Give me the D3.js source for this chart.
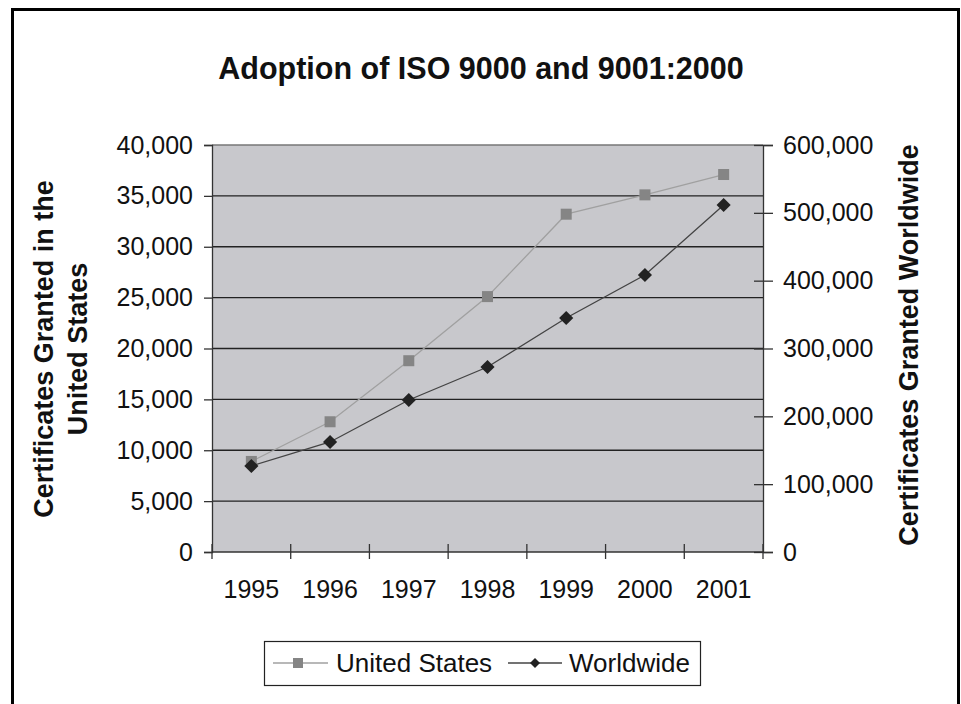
<!DOCTYPE html>
<html>
<head>
<meta charset="utf-8">
<script src="https://cdn.jsdelivr.net/npm/d3@7"></script>
<style>
  body { margin: 0; background: #fff; }
  text { font-family: "Liberation Sans", Arial, sans-serif; fill: #111; }
</style>
</head>
<body>
<div id="chart"></div>
<script>
// data
var years = ["1995", "1996", "1997", "1998", "1999", "2000", "2001"];
var usValues = [8900, 12800, 18800, 25100, 33200, 35100, 37100];
var worldValues = [126800, 162200, 224100, 272700, 345000, 408400, 511600];
var leftTicks = [0, 5000, 10000, 15000, 20000, 25000, 30000, 35000, 40000];
var rightTicks = [0, 100000, 200000, 300000, 400000, 500000, 600000];

var W = 961, H = 704;
var plot = { left: 212, right: 763, top: 145, bottom: 552 };
var tickFont = 25;

var svg = d3.select("#chart").append("svg").attr("width", W).attr("height", H);

// outer frame (runs off the bottom)
svg.append("rect")
  .attr("x", 12.5).attr("y", 9.5)
  .attr("width", 946).attr("height", 720)
  .attr("fill", "#fff").attr("stroke", "#000").attr("stroke-width", 3);

svg.append("text")
  .attr("x", 481).attr("y", 79)
  .attr("text-anchor", "middle")
  .attr("font-size", 30.5).attr("font-weight", "bold")
  .text("Adoption of ISO 9000 and 9001:2000");

var x = d3.scaleBand().domain(years).range([plot.left, plot.right]);
var yLeft = d3.scaleLinear().domain([0, 40000]).range([plot.bottom, plot.top]);
var yRight = d3.scaleLinear().domain([0, 600000]).range([plot.bottom, plot.top]);

svg.append("rect")
  .attr("x", plot.left).attr("y", plot.top)
  .attr("width", plot.right - plot.left).attr("height", plot.bottom - plot.top)
  .attr("fill", "#c8c8cc");

// gridlines
svg.append("g").selectAll("line")
  .data(leftTicks.slice(1))
  .join("line")
  .attr("x1", plot.left).attr("x2", plot.right)
  .attr("y1", d => yLeft(d)).attr("y2", d => yLeft(d))
  .attr("stroke", d => d == 40000 ? "#777" : "#222")
  .attr("stroke-width", 1.3);

var fmt = d3.format(",");

// left axis
var gl = svg.append("g")
  .attr("transform", "translate(" + plot.left + ",0)")
  .call(d3.axisLeft(yLeft).tickValues(leftTicks).tickFormat(fmt).tickSize(8).tickPadding(11));
gl.select(".domain").attr("stroke", "#333").attr("stroke-width", 1.3);
gl.selectAll(".tick line").attr("stroke", "#333").attr("stroke-width", 1.3);
gl.selectAll(".tick text").attr("font-size", tickFont).attr("font-family", "Liberation Sans, Arial, sans-serif").attr("fill", "#111");

// right axis
var gr = svg.append("g")
  .attr("transform", "translate(" + plot.right + ",0)")
  .call(d3.axisRight(yRight).tickValues(rightTicks).tickFormat(fmt).tickSize(10).tickPadding(10));
gr.select(".domain").attr("stroke", "#333").attr("stroke-width", 1.3);
gr.selectAll(".tick line").attr("stroke", "#333").attr("stroke-width", 1.3).attr("x1", -9);
gr.selectAll(".tick text").attr("font-size", tickFont).attr("font-family", "Liberation Sans, Arial, sans-serif").attr("fill", "#111");

// bottom axis: ticks sit on category edges
var gb = svg.append("g")
  .attr("transform", "translate(0," + plot.bottom + ")");
gb.append("line")
  .attr("x1", plot.left).attr("x2", plot.right)
  .attr("stroke", "#333").attr("stroke-width", 1.3);
var edges = years.map(d => x(d)).concat([x(years[years.length - 1]) + x.bandwidth()]);
gb.selectAll("line.edge")
  .data(edges)
  .join("line")
  .attr("class", "edge")
  .attr("x1", d => d).attr("x2", d => d)
  .attr("y1", -8).attr("y2", 7)
  .attr("stroke", "#333").attr("stroke-width", 1.3);
gb.selectAll("text")
  .data(years)
  .join("text")
  .attr("x", d => x(d) + x.bandwidth() / 2)
  .attr("y", 46)
  .attr("text-anchor", "middle")
  .attr("font-size", tickFont)
  .text(d => d);

// axis titles
var lt = svg.append("text")
  .attr("transform", "translate(53,349) rotate(-90)")
  .attr("text-anchor", "middle")
  .attr("font-size", 27).attr("font-weight", "bold");
lt.append("tspan").attr("x", 0).attr("dy", 0).text("Certificates Granted in the");
lt.append("tspan").attr("x", 0).attr("dy", 34).text("United States");

svg.append("text")
  .attr("transform", "translate(918,345) rotate(-90)")
  .attr("text-anchor", "middle")
  .attr("font-size", 27).attr("font-weight", "bold")
  .text("Certificates Granted Worldwide");

var cx = d => x(d) + x.bandwidth() / 2;

// United States series (left scale)
svg.append("path")
  .datum(usValues)
  .attr("fill", "none").attr("stroke", "#a0a0a0").attr("stroke-width", 1.3)
  .attr("d", d3.line().x((d, i) => cx(years[i])).y(d => yLeft(d)));
svg.append("g").selectAll("rect")
  .data(usValues)
  .join("rect")
  .attr("x", (d, i) => cx(years[i]) - 5.5)
  .attr("y", d => yLeft(d) - 5.5)
  .attr("width", 11).attr("height", 11)
  .attr("fill", "#858585");

// Worldwide series (right scale), diamonds = squares turned 45deg
svg.append("path")
  .datum(worldValues)
  .attr("fill", "none").attr("stroke", "#444").attr("stroke-width", 1.3)
  .attr("d", d3.line().x((d, i) => cx(years[i])).y(d => yRight(d)));
var diamond = d3.symbol().type(d3.symbolSquare).size(100);
svg.append("g").selectAll("path")
  .data(worldValues)
  .join("path")
  .attr("transform", (d, i) => "translate(" + cx(years[i]) + "," + yRight(d) + ") rotate(45)")
  .attr("d", diamond)
  .attr("fill", "#222");

// legend
var lg = svg.append("g");
lg.append("rect")
  .attr("x", 264.5).attr("y", 641.5)
  .attr("width", 436).attr("height", 44)
  .attr("fill", "#fff").attr("stroke", "#222").attr("stroke-width", 1.2);
lg.append("line").attr("x1", 273).attr("x2", 328).attr("y1", 663).attr("y2", 663)
  .attr("stroke", "#a0a0a0").attr("stroke-width", 1.3);
lg.append("rect").attr("x", 293).attr("y", 658).attr("width", 10).attr("height", 10).attr("fill", "#858585");
lg.append("text").attr("x", 336).attr("y", 672).attr("font-size", 26).text("United States");
lg.append("line").attr("x1", 508).attr("x2", 562).attr("y1", 663).attr("y2", 663)
  .attr("stroke", "#444").attr("stroke-width", 1.3);
lg.append("path").attr("transform", "translate(535,663) rotate(45)")
  .attr("d", d3.symbol().type(d3.symbolSquare).size(50)).attr("fill", "#222");
lg.append("text").attr("x", 569).attr("y", 672).attr("font-size", 26).text("Worldwide");
</script>
</body>
</html>
